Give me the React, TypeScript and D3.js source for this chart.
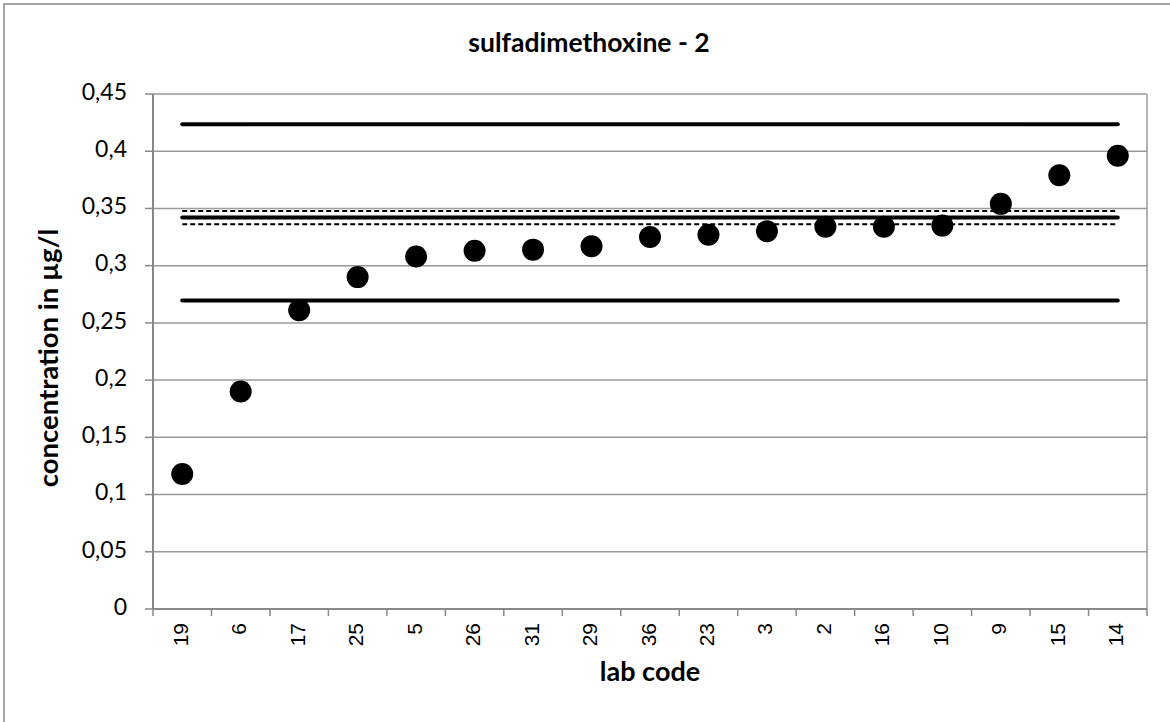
import React from "react";
import * as d3 from "d3";

const labCodes = ["19", "6", "17", "25", "5", "26", "31", "29", "36", "23", "3", "2", "16", "10", "9", "15", "14"];
const values = [0.118, 0.19, 0.261, 0.29, 0.308, 0.313, 0.314, 0.317, 0.325, 0.327, 0.33, 0.334, 0.334, 0.335, 0.354, 0.379, 0.396];
const yTicks = [0, 0.05, 0.1, 0.15, 0.2, 0.25, 0.3, 0.35, 0.4, 0.45];
const solidLines = [0.4235, 0.342, 0.2695];
const dashedLines = [0.3478, 0.3362];

const W = 1170;
const H = 722;
const plot = { left: 153, right: 1147, top: 94, bottom: 609 };

export default function App() {
  const x = d3.scaleBand<string>().domain(labCodes).range([plot.left, plot.right]).paddingInner(0).paddingOuter(0);
  const y = d3.scaleLinear().domain([0, 0.45]).range([plot.bottom, plot.top]);
  const cx = (c: string) => (x(c) as number) + x.bandwidth() / 2;
  const x0 = cx(labCodes[0]);
  const x1 = cx(labCodes[labCodes.length - 1]);
  const fmt = (v: number) => String(+v.toFixed(2)).replace(".", ",");
  const grid = "#999";
  const axis = "#888";
  const font = "Lato, 'Open Sans', sans-serif";
  const boundaries = labCodes.map((c) => x(c) as number).concat([plot.right]);

  return (
    <svg width={W} height={H} style={{ position: "absolute", left: 0, top: 0, background: "#fff" }}>
      <rect x={0} y={0} width={W} height={H} fill="#fff" />
      <rect x={4} y={4} width={W + 20} height={H + 20} fill="none" stroke="#888" strokeWidth={1.5} />
      {yTicks.map((t) => (
        <g key={t}>
          {t > 0 && <line x1={plot.left} x2={plot.right} y1={y(t)} y2={y(t)} stroke={grid} strokeWidth={1.5} />}
          <line x1={plot.left - 8} x2={plot.left} y1={y(t)} y2={y(t)} stroke={axis} strokeWidth={1.5} />
          <text x={127} y={y(t)} textAnchor="end" dominantBaseline="middle" fontFamily={font} fontSize={23} fill="#000">
            {fmt(t)}
          </text>
        </g>
      ))}
      <line x1={plot.right} x2={plot.right} y1={plot.top} y2={plot.bottom} stroke={grid} strokeWidth={1.5} />
      <line x1={plot.left} x2={plot.left} y1={plot.top} y2={plot.bottom + 1} stroke={axis} strokeWidth={2} />
      <line x1={plot.left} x2={plot.right} y1={plot.bottom} y2={plot.bottom} stroke={axis} strokeWidth={2} />
      {boundaries.map((b, i) => (
        <line key={i} x1={b} x2={b} y1={plot.bottom} y2={plot.bottom + 7} stroke={axis} strokeWidth={1.5} />
      ))}
      {labCodes.map((c) => (
        <text
          key={c}
          transform={`translate(${cx(c)},${623}) rotate(-90)`}
          textAnchor="end"
          dominantBaseline="middle"
          fontFamily="'Liberation Sans', Arial, sans-serif"
          fontSize={21}
          fill="#000"
        >
          {c}
        </text>
      ))}
      {solidLines.map((v, i) => (
        <line key={"s" + i} x1={x0} x2={x1} y1={y(v)} y2={y(v)} stroke="#000" strokeWidth={4} strokeLinecap="round" />
      ))}
      {dashedLines.map((v, i) => (
        <line key={"d" + i} x1={x0} x2={x1} y1={y(v)} y2={y(v)} stroke="#000" strokeWidth={2} strokeDasharray="5,3" />
      ))}
      {labCodes.map((c, i) => (
        <circle key={c} cx={cx(c)} cy={y(values[i])} r={11} fill="#000" />
      ))}
      <text x={589} y={45} textAnchor="middle" dominantBaseline="middle" fontFamily={font} fontWeight="bold" fontSize={26.5} fill="#000">
        sulfadimethoxine - 2
      </text>
      <text x={(plot.left + plot.right) / 2} y={674} textAnchor="middle" dominantBaseline="middle" fontFamily={font} fontWeight="bold" fontSize={27} fill="#000">
        lab code
      </text>
      <text
        transform={`translate(${51},${358}) rotate(-90)`}
        textAnchor="middle"
        dominantBaseline="middle"
        fontFamily={font}
        fontWeight="bold"
        fontSize={27.5}
        fill="#000"
      >
        concentration in µg/l
      </text>
    </svg>
  );
}
